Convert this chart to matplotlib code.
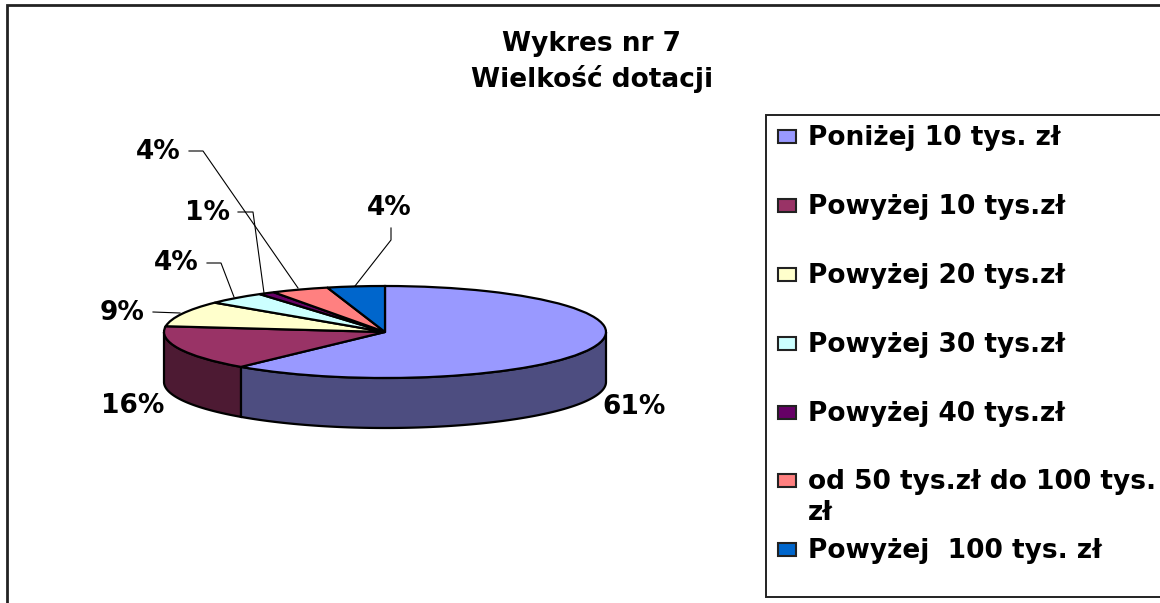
import numpy as np
import matplotlib
matplotlib.use("Agg")
import matplotlib.pyplot as plt
from matplotlib.patches import Rectangle

plt.rcParams['font.family'] = ['DejaVu Sans']

title = "Wykres nr 7\nWielkość dotacji"
categories = ["Poniżej 10 tys. zł", "Powyżej 10 tys.zł", "Powyżej 20 tys.zł", "Powyżej 30 tys.zł",
              "Powyżej 40 tys.zł", "od 50 tys.zł do 100 tys.\nzł", "Powyżej  100 tys. zł"]
values = [61.3, 15.7, 9.0, 4.4, 1.2, 4.2, 4.2]
pct_labels = ["61%", "16%", "9%", "4%", "1%", "4%", "4%"]
colors = ["#9999FF", "#993366", "#FFFFCC", "#CCFFFF", "#660066", "#FF8080", "#0066CC"]
side_colors = ["#4D4D80", "#4D1A33", "#808066", "#668080", "#330033", "#804040", "#003366"]

W, H = 1160, 603
CX, CY, RX, RY, DEPTH = 385, 332, 221, 46, 50

fig = plt.figure(figsize=(W / 100, H / 100), dpi=100, facecolor="white")
ax = fig.add_axes([0, 0, 1, 1])
ov = fig.add_axes([0, 0, 1, 1], facecolor="none")
ov.set_xlim(0, W); ov.set_ylim(H, 0); ov.axis("off")

# walls of the pie
d = DEPTH / RY
edges = np.cumsum([0] + values) / sum(values) * 2 * np.pi
for i, c in enumerate(side_colors):
    a, b = max(edges[i], np.pi / 2), min(edges[i + 1], 3 * np.pi / 2)
    if b > a:
        t = np.linspace(a, b, 120)
        x, y = np.sin(t), np.cos(t)
        ax.fill(np.r_[x, x[::-1]], np.r_[y, y[::-1] - d], facecolor=c, edgecolor="black", lw=1.6)

ax.pie(values, colors=colors, startangle=90, counterclock=False, radius=1,
       wedgeprops=dict(edgecolor="black", linewidth=1.6))
ax.set_aspect("auto")
ax.set_xlim((0 - CX) / RX, (W - CX) / RX)
ax.set_ylim((CY - H) / RY, CY / RY)
ax.axis("off")

# outer frame
ov.plot([7, 7, W], [H, 5, 5], color="#222222", lw=2, solid_joinstyle="miter")

# title
ov.text(592, 62, title, ha="center", va="center", fontsize=19, fontweight="bold", linespacing=1.4)

# data labels
lab_pos = [(634, 407), (133, 406), (122, 313), (176, 263), (208, 213), (158, 152), (389, 208)]
for s, (x, y) in zip(pct_labels, lab_pos):
    ov.text(x, y, s, ha="center", va="center", fontsize=19, fontweight="bold")

# leader lines
leaders = [[(153, 312), (180, 313)],
           [(207, 263), (221, 263), (234, 297)],
           [(238, 212), (253, 212), (264, 293)],
           [(189, 151), (203, 151), (298, 288)],
           [(391, 228), (391, 240), (355, 286)]]
for ln in leaders:
    xs, ys = zip(*ln)
    ov.plot(xs, ys, color="black", lw=0.8)

# legend
ov.add_patch(Rectangle((766, 115), W, 482, facecolor="white", edgecolor="#222222", lw=1.4))
rows = [137, 206, 275, 344, 413, 481, 550]
for lab, c, y in zip(categories, colors, rows):
    ov.add_patch(Rectangle((778, y - 7), 18, 13, facecolor=c, edgecolor="#222222", lw=1.5))
    ov.text(808, y - 12, lab, ha="left", va="top", fontsize=19, fontweight="bold", linespacing=1.25)

fig.savefig("out.png", dpi=100)
